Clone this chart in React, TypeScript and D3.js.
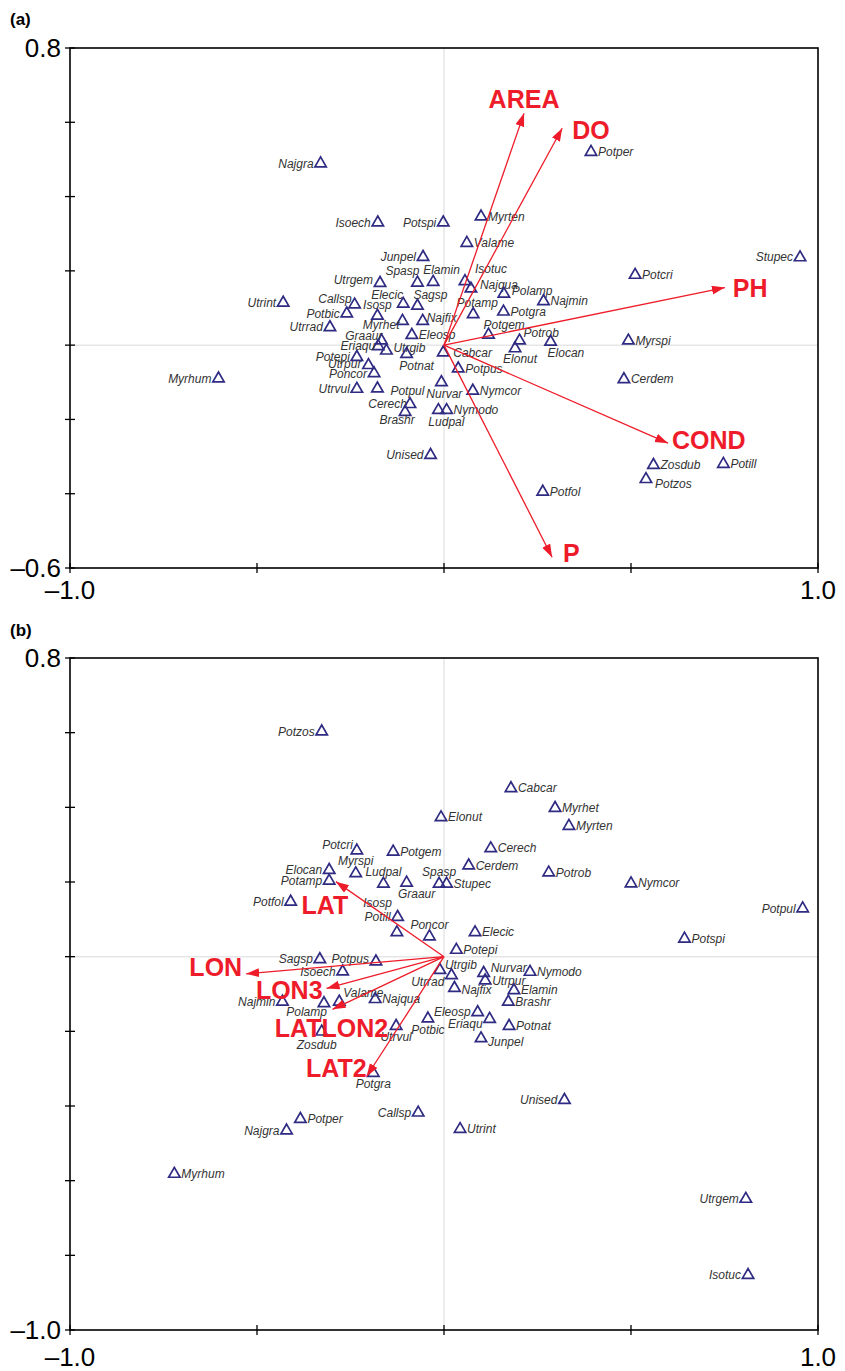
import React from "react";
import * as d3 from "d3";

// species scores [name, axis1, axis2]
const speciesA: [string, number, number][] = [
  ["Najgra", -0.330, 0.489], ["Isoech", -0.177, 0.330], ["Potspi", -0.002, 0.330],
  ["Myrten", 0.099, 0.346], ["Valame", 0.061, 0.275], ["Junpel", -0.056, 0.237],
  ["Utrgem", -0.171, 0.167], ["Spasp", -0.071, 0.168], ["Elamin", -0.029, 0.170],
  ["Isotuc", 0.056, 0.172], ["Najqua", 0.072, 0.152], ["Polamp", 0.160, 0.138],
  ["Najmin", 0.266, 0.118], ["Potamp", 0.078, 0.083], ["Potgra", 0.159, 0.090],
  ["Utrint", -0.430, 0.114], ["Callsp", -0.239, 0.109], ["Potbic", -0.260, 0.085],
  ["Isosp", -0.178, 0.079], ["Elecic", -0.109, 0.111], ["Sagsp", -0.071, 0.106],
  ["Myrhet", -0.111, 0.065], ["Najfix", -0.057, 0.065], ["Utrrad", -0.305, 0.048],
  ["Graaur", -0.167, 0.012], ["Eriaqu", -0.176, -0.003], ["Utrgib", -0.154, -0.015],
  ["Eleosp", -0.086, 0.027], ["Cabcar", -0.002, -0.020], ["Potgem", 0.119, 0.028],
  ["Potrob", 0.202, 0.012], ["Elonut", 0.190, -0.009], ["Elocan", 0.285, 0.009],
  ["Myrspi", 0.493, 0.012], ["Potcri", 0.511, 0.189], ["Stupec", 0.952, 0.236],
  ["Potper", 0.393, 0.520], ["Potepi", -0.233, -0.032], ["Potnat", -0.100, -0.024],
  ["Myrhum", -0.603, -0.090], ["Utrpur", -0.202, -0.054], ["Poncor", -0.187, -0.076],
  ["Utrvul", -0.233, -0.118], ["Potpul", -0.178, -0.117], ["Cerech", -0.091, -0.159],
  ["Brashr", -0.104, -0.180], ["Nurvar", -0.007, -0.100], ["Nymcor", 0.077, -0.123],
  ["Ludpal", -0.015, -0.175], ["Nymodo", 0.007, -0.175], ["Potpus", 0.038, -0.063],
  ["Unised", -0.036, -0.296], ["Cerdem", 0.481, -0.092], ["Zosdub", 0.560, -0.323],
  ["Potill", 0.747, -0.320], ["Potzos", 0.540, -0.361], ["Potfol", 0.264, -0.395],
];

const envA: [string, number, number][] = [
  ["AREA", 0.214, 0.624], ["DO", 0.316, 0.584], ["PH", 0.751, 0.155],
  ["COND", 0.599, -0.264], ["P", 0.289, -0.571],
];

const speciesB: [string, number, number][] = [
  ["Potzos", -0.327, 0.603], ["Cabcar", 0.179, 0.451], ["Myrhet", 0.297, 0.398],
  ["Myrten", 0.334, 0.350], ["Elonut", -0.008, 0.373], ["Potcri", -0.233, 0.284],
  ["Potgem", -0.136, 0.281], ["Cerech", 0.125, 0.290], ["Elocan", -0.307, 0.232],
  ["Myrspi", -0.236, 0.223], ["Ludpal", -0.162, 0.195], ["Graaur", -0.100, 0.198],
  ["Potamp", -0.307, 0.203], ["Spasp", -0.013, 0.195], ["Stupec", 0.007, 0.195],
  ["Cerdem", 0.066, 0.244], ["Potrob", 0.280, 0.225], ["Nymcor", 0.500, 0.196],
  ["Potpul", 0.959, 0.129], ["Potspi", 0.643, 0.048], ["Potfol", -0.410, 0.147],
  ["Potill", -0.124, 0.106], ["Isosp", -0.126, 0.065], ["Poncor", -0.039, 0.054],
  ["Elecic", 0.083, 0.065], ["Potepi", 0.033, 0.018], ["Sagsp", -0.332, -0.007],
  ["Potpus", -0.182, -0.013], ["Isoech", -0.271, -0.040], ["Najmin", -0.432, -0.121],
  ["Polamp", -0.321, -0.125], ["Valame", -0.280, -0.121], ["Najqua", -0.184, -0.114],
  ["Zosdub", -0.327, -0.201], ["Utrvul", -0.128, -0.186], ["Utrgib", -0.011, -0.036],
  ["Utrrad", 0.020, -0.050], ["Najfix", 0.028, -0.084], ["Nurvar", 0.106, -0.044],
  ["Utrpur", 0.110, -0.064], ["Nymodo", 0.230, -0.041], ["Elamin", 0.187, -0.090],
  ["Brashr", 0.172, -0.121], ["Eleosp", 0.090, -0.149], ["Eriaqu", 0.122, -0.167],
  ["Potbic", -0.043, -0.166], ["Potnat", 0.174, -0.186], ["Junpel", 0.099, -0.219],
  ["Potgra", -0.189, -0.312], ["Unised", 0.322, -0.384], ["Callsp", -0.069, -0.418],
  ["Potper", -0.384, -0.435], ["Najgra", -0.421, -0.466], ["Utrint", 0.043, -0.462],
  ["Myrhum", -0.721, -0.582], ["Utrgem", 0.807, -0.649], ["Isotuc", 0.813, -0.853],
];

const envB: [string, number, number][] = [
  ["LAT", -0.289, 0.201], ["LON", -0.529, -0.046], ["LON3", -0.314, -0.085],
  ["LATLON2", -0.298, -0.141], ["LAT2", -0.207, -0.321],
];

const xTicks = [-1, -0.5, 0, 0.5, 1];
const xTickLabels = ["–1.0", "", "", "", "1.0"];

// label placement around the marker: code + optional nudge
type Place = [string, number?, number?];
const codes: Record<string, [number, number, string]> = {
  l: [-7, 4, "end"], r: [7, 4, "start"], a: [0, -8, "middle"], b: [0, 15, "middle"],
  al: [2, -8, "end"], ar: [-2, -8, "start"], br: [-3, 15, "start"], bl: [3, 13, "end"],
};

const placeA: Record<string, Place> = {
  Najgra: ["l"], Isoech: ["l"], Potspi: ["l"], Myrten: ["r"], Valame: ["r"], Junpel: ["l"],
  Utrgem: ["l", 0, -3], Spasp: ["al"], Elamin: ["ar", -8, 0], Isotuc: ["ar", 12, 0],
  Najqua: ["r", 2, -4], Polamp: ["r", 1, -3], Najmin: ["r"], Potamp: ["a", 4, 1], Potgra: ["r"],
  Utrint: ["l"], Callsp: ["l", 4, -6], Potbic: ["l"], Isosp: ["a", 0, 1], Elecic: ["al", -2, 3],
  Sagsp: ["ar", -2, 1], Myrhet: ["l", 4, 4], Najfix: ["r", -3, -3], Utrrad: ["l"],
  Graaur: ["l", 8, -5], Eriaqu: ["l", 4, 0], Utrgib: ["r", 0, -3], Eleosp: ["r"],
  Cabcar: ["r", 3, 0], Potgem: ["ar", -3, 2], Potrob: ["ar", 6, 4], Elonut: ["b", 5, 0],
  Elocan: ["br"], Myrspi: ["r"], Potcri: ["r"], Stupec: ["l"], Potper: ["r"], Potepi: ["l"],
  Potnat: ["b", 10, 1], Myrhum: ["l"], Utrpur: ["l", 0, -1], Poncor: ["l", 0, 1], Utrvul: ["l"],
  Potpul: ["r", 6, 2], Cerech: ["l", 4, 0], Brashr: ["b", -8, -3], Nurvar: ["b", 3, 1],
  Nymcor: ["r"], Ludpal: ["b", 8, 1], Nymodo: ["r"], Potpus: ["r"], Unised: ["l"],
  Cerdem: ["r"], Zosdub: ["r"], Potill: ["r"], Potzos: ["r", 2, 5], Potfol: ["r"],
};

const placeB: Record<string, Place> = {
  Potzos: ["l"], Cabcar: ["r"], Myrhet: ["r"], Myrten: ["r"], Elonut: ["r"], Potcri: ["l", 3, -6],
  Potgem: ["r"], Cerech: ["r"], Elocan: ["l"], Myrspi: ["a"], Ludpal: ["a"], Graaur: ["b", 10, 0],
  Potamp: ["l"], Spasp: ["a"], Stupec: ["r"], Cerdem: ["r"], Potrob: ["r"], Nymcor: ["r"],
  Potpul: ["l"], Potspi: ["r"], Potfol: ["l"], Potill: ["l"], Isosp: ["al", -7, -17],
  Poncor: ["a"], Elecic: ["r"], Potepi: ["r"], Sagsp: ["l"], Potpus: ["l", 0, -3], Isoech: ["l"],
  Najmin: ["l"], Polamp: ["bl"], Valame: ["r", -3, -9], Najqua: ["r"], Zosdub: ["b", -5, 2],
  Utrvul: ["b"], Utrgib: ["r", -2, -5], Utrrad: ["l", 0, 7], Najfix: ["r", 0, 2],
  Nurvar: ["r", 0, -5], Utrpur: ["r"], Nymodo: ["r"], Elamin: ["r"], Brashr: ["r"],
  Eleosp: ["l"], Eriaqu: ["l", 0, 5], Potbic: ["b"], Potnat: ["r"], Junpel: ["r", 0, 4],
  Potgra: ["b"], Unised: ["l"], Callsp: ["l"], Potper: ["r"], Najgra: ["l"], Utrint: ["r"],
  Myrhum: ["r"], Utrgem: ["l"], Isotuc: ["l"],
};

// where each vector label sits relative to the arrow tip
const envLabelPos: Record<string, [number, number, string]> = {
  AREA: [0, -5, "middle"], DO: [10, 11, "start"], PH: [8, 9, "start"],
  COND: [4, 6, "start"], P: [11, 5, "start"],
  LAT: [-11, 32, "middle"], LON: [-4, 2, "end"], LON3: [-4, 11, "end"],
  LATLON2: [-1, 28, "middle"], LAT2: [0, 0, "end"],
};

const LEFT = 70, RIGHT = 818;
const RED = "#ee1c2a";
const NAVY = "#2f2b82";
const FONT = "'Liberation Sans', Arial, sans-serif";

const panels = [
  { tag: "(a)", tagY: 25, top: 48, bottom: 568, yMin: -0.6, yMax: 0.8, xLabY: 599,
    species: speciesA, env: envA, place: placeA },
  { tag: "(b)", tagY: 636, top: 658, bottom: 1330, yMin: -1.0, yMax: 0.8, xLabY: 1366,
    species: speciesB, env: envB, place: placeB },
];

const fmt = (v: number) => d3.format(".1f")(v).replace("−", "–").replace("-", "–");

function Panel({ p }: { p: typeof panels[number] }) {
  const x = d3.scaleLinear().domain([-1, 1]).range([LEFT, RIGHT]);
  const y = d3.scaleLinear().domain([p.yMin, p.yMax]).range([p.bottom, p.top]);
  const n = Math.round((p.yMax - p.yMin) / 0.2);
  const yTicks = d3.range(n + 1).map((i) => +(p.yMin + i * 0.2).toFixed(1));
  const tri = d3.symbol(d3.symbolTriangle, 56)() as string;

  return (
    <g>
      <text x={10} y={p.tagY} fontFamily={FONT} fontWeight="bold" fontSize={17}>{p.tag}</text>
      {/* zero lines */}
      <line x1={x(0)} x2={x(0)} y1={p.top} y2={p.bottom} stroke="#e6e6e6" strokeWidth={1.5} />
      <line x1={LEFT} x2={RIGHT} y1={y(0)} y2={y(0)} stroke="#e6e6e6" strokeWidth={1.5} />

      {p.species.map(([name, sx, sy]) => {
        const pl = p.place[name] || ["r"];
        const [dx, dy, anchor] = codes[pl[0]];
        const cx = x(sx), cy = y(sy);
        return (
          <g key={name}>
            <path d={tri} transform={`translate(${cx},${cy})`} fill="none" stroke={NAVY} strokeWidth={1.7} />
            <text x={cx + dx + (pl[1] || 0)} y={cy + dy + (pl[2] || 0)} textAnchor={anchor as any}
              fontFamily={FONT} fontStyle="italic" fontSize={12} fill="#333">{name}</text>
          </g>
        );
      })}

      {p.env.map(([name, ex, ey]) => {
        const [dx, dy, anchor] = envLabelPos[name];
        return (
          <g key={name}>
            <line x1={x(0)} y1={y(0)} x2={x(ex)} y2={y(ey)} stroke={RED} strokeWidth={1.3} markerEnd="url(#arrowhead)" />
            <text x={x(ex) + dx} y={y(ey) + dy} textAnchor={anchor as any} fontFamily={FONT}
              fontWeight="bold" fontSize={25} fill={RED}>{name}</text>
          </g>
        );
      })}

      {/* frame */}
      <rect x={LEFT} y={p.top} width={RIGHT - LEFT} height={p.bottom - p.top} fill="none" stroke="#000" strokeWidth={1.6} />
      {yTicks.map((t) => (
        <line key={"y" + t} x1={LEFT - 5} x2={LEFT + 5} y1={y(t)} y2={y(t)} stroke="#000" strokeWidth={1.3} />
      ))}
      {xTicks.map((t) => (
        <line key={"x" + t} x1={x(t)} x2={x(t)} y1={p.bottom - 5} y2={p.bottom + 5} stroke="#000" strokeWidth={1.3} />
      ))}
      {[p.yMax, p.yMin].map((t) => (
        <text key={"yl" + t} x={LEFT - 9} y={y(t) + 9} textAnchor="end" fontFamily={FONT} fontSize={26}>{fmt(t)}</text>
      ))}
      {xTicks.map((t, i) => xTickLabels[i] ? (
        <text key={"xl" + t} x={x(t)} y={p.xLabY} textAnchor="middle" fontFamily={FONT} fontSize={26}>{xTickLabels[i]}</text>
      ) : null)}
    </g>
  );
}

export default function App() {
  return (
    <div style={{ position: "absolute", left: 0, top: 0 }}>
      <svg width={845} height={1371} viewBox="0 0 845 1371" style={{ display: "block", background: "#fff" }}>
        <defs>
          <marker id="arrowhead" markerUnits="userSpaceOnUse" markerWidth={14} markerHeight={10}
            refX={13} refY={4.5} orient="auto">
            <path d="M0,0 L13,4.5 L0,9 Z" fill={RED} />
          </marker>
        </defs>
        {panels.map((p) => <Panel key={p.tag} p={p} />)}
      </svg>
    </div>
  );
}
